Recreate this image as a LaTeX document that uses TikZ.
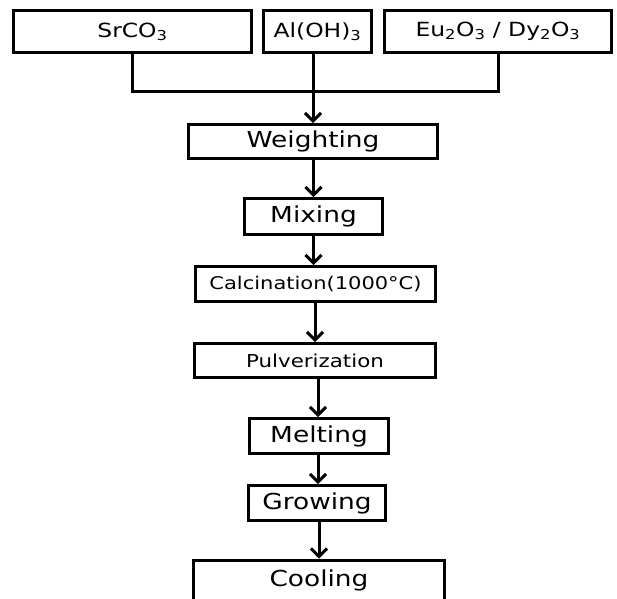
\documentclass[tikz,border=0pt]{standalone}
\usepackage{fontspec}
\setmainfont[FakeStretch=1.2]{DejaVu Sans}
\usetikzlibrary{arrows.meta}
\tikzset{
    stage/.style={draw, line width=3pt, minimum height=35pt, inner sep=0pt,
        font=\fontsize{22}{24}\selectfont},
    small/.style={font=\fontsize{19.5}{21}\selectfont},
    flow/.style={line width=3pt, -{Straight Barb[length=8pt,width=16pt]}},
}

\begin{document}
\begin{tikzpicture}[x=1pt,y=-1pt]
    \useasboundingbox (0,0) rectangle (617,598);
    % starting materials
    \node[stage,small,minimum width=238pt,minimum height=42pt] (sr) at (132.5,31.5) {SrCO\textsubscript{3}};
    \node[stage,small,minimum width=108pt,minimum height=42pt] (al) at (317.5,31.5) {Al(OH)\textsubscript{3}};
    \node[stage,small,minimum width=227pt,minimum height=42pt] (eu) at (498,31.5) {Eu\textsubscript{2}O\textsubscript{3} / Dy\textsubscript{2}O\textsubscript{3}};
    % process steps
    \node[stage,minimum width=249pt,minimum height=34pt] (weigh) at (313,141.5) {Weighting};
    \node[stage,minimum width=138pt,minimum height=36pt] (mix) at (313.5,216.5) {Mixing};
    \node[stage,font=\fontsize{17.5}{20}\selectfont,minimum width=240pt] (calc) at (315.5,284) {Calcination(1000°C)};
    \node[stage,font=\fontsize{17.8}{20}\selectfont,minimum width=241pt,minimum height=34pt] (pulv) at (315,360.5) {Pulverization};
    \node[stage,minimum width=139pt] (melt) at (319,436) {Melting};
    \node[stage,minimum width=137pt] (grow) at (317,503) {Growing};
    \node[stage,minimum width=251pt,minimum height=40pt] (cool) at (319,580) {Cooling};
    % joining the materials
    \coordinate (join) at (313,91);
    \draw[line width=3pt] (sr.south) |- (join) -| (eu.south);
    \draw[flow] (join |- al.south) -- (join |- weigh.north);
    % flow
    \draw[flow] (weigh.south -| mix) -- (mix.north);
    \draw[flow] (mix.south) -- (mix.south |- calc.north);
    \draw[flow] (calc.south -| pulv) -- (pulv.north);
    \draw[flow] (pulv.south -| 318,0) -- (melt.north -| 318,0);
    \draw[flow] (melt.south -| 318,0) -- (grow.north -| 318,0);
    \draw[flow] (grow.south -| cool) -- (cool.north);
\end{tikzpicture}
\end{document}
